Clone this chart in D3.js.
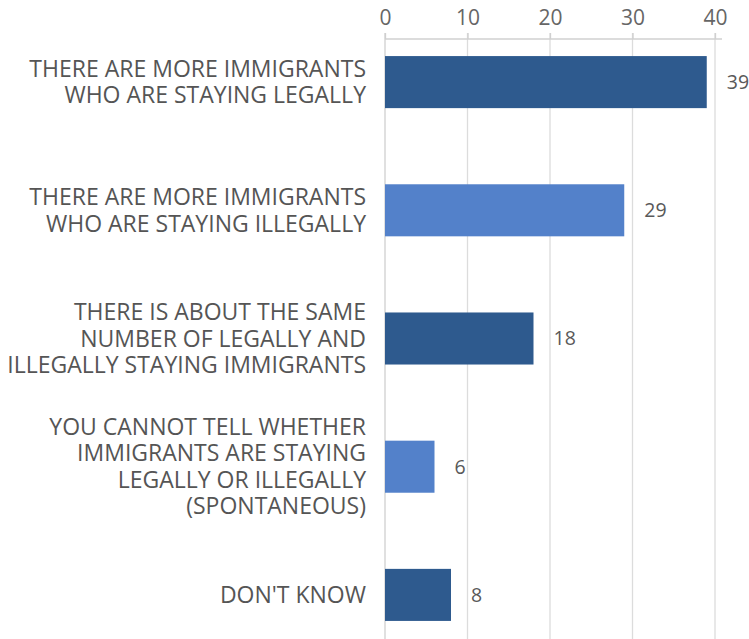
<!DOCTYPE html>
<html>
<head>
<meta charset="utf-8">
<script src="https://cdn.jsdelivr.net/npm/d3@7"></script>
<style>
  body { margin: 0; background: #fff; }
  text { font-family: "Open Sans", "Noto Sans", sans-serif; }
</style>
</head>
<body>
<div id="chart-container"></div>
<script>
// Data
var categories = [
    ["THERE ARE MORE IMMIGRANTS", "WHO ARE STAYING LEGALLY"],
    ["THERE ARE MORE IMMIGRANTS", "WHO ARE STAYING ILLEGALLY"],
    ["THERE IS ABOUT THE SAME", "NUMBER OF LEGALLY AND", "ILLEGALLY STAYING IMMIGRANTS"],
    ["YOU CANNOT TELL WHETHER", "IMMIGRANTS ARE STAYING", "LEGALLY OR ILLEGALLY", "(SPONTANEOUS)"],
    ["DON'T KNOW"]
];
var values = [39, 29, 18, 6, 8];
var barColors = ["#2e5a8e", "#5381ca", "#2e5a8e", "#5381ca", "#2e5a8e"];
var tickValues = [0, 10, 20, 30, 40];

var width = 749, height = 639;

var svg = d3.select("#chart-container")
            .append("svg")
            .attr("width", width)
            .attr("height", height);

// Scales
var x = d3.scaleLinear()
          .domain([0, 40])
          .range([385, 715]);

var y = d3.scaleBand()
          .domain(d3.range(values.length))
          .range([18, 659])
          .paddingInner(0.594)
          .paddingOuter(0.297);

// Gridlines
svg.append("g")
   .selectAll("line")
   .data(tickValues.slice(1))
   .enter().append("line")
   .attr("x1", function(d) { return x(d); })
   .attr("x2", function(d) { return x(d); })
   .attr("y1", 33)
   .attr("y2", height)
   .attr("stroke", "#dcdcdc")
   .attr("stroke-width", 1.3);

// Top axis
var xAxis = d3.axisTop(x)
              .tickValues(tickValues)
              .tickSize(6)
              .tickPadding(8);

var axisG = svg.append("g")
   .attr("transform", "translate(0,39)")
   .call(xAxis);

axisG.select(".domain")
     .attr("d", "M" + x(0) + ",0H" + (x(40) + 7))
     .attr("stroke", "#d0d0d0")
     .attr("stroke-width", 1.3);
axisG.selectAll(".tick line").attr("stroke", "#d0d0d0").attr("stroke-width", 1.3);
axisG.selectAll(".tick text")
     .attr("fill", "#666")
     .style("font-size", "21px");

// Vertical zero line
svg.append("line")
   .attr("x1", x(0)).attr("x2", x(0))
   .attr("y1", 33).attr("y2", height)
   .attr("stroke", "#d0d0d0")
   .attr("stroke-width", 1.3);

// Bars
svg.append("g")
   .selectAll("rect")
   .data(values)
   .enter().append("rect")
   .attr("x", x(0))
   .attr("y", function(d, i) { return y(i); })
   .attr("width", function(d) { return x(d) - x(0); })
   .attr("height", y.bandwidth())
   .attr("fill", function(d, i) { return barColors[i]; });

// Value labels
svg.append("g")
   .selectAll("text")
   .data(values)
   .enter().append("text")
   .attr("x", function(d) { return x(d) + 20; })
   .attr("y", function(d, i) { return y(i) + y.bandwidth() / 2; })
   .attr("dy", "0.35em")
   .attr("fill", "#595959")
   .style("font-size", "19.5px")
   .text(function(d) { return d; });

// Category labels
var lineH = 26.5;
var catG = svg.append("g")
   .selectAll("text")
   .data(categories)
   .enter().append("text")
   .attr("text-anchor", "end")
   .attr("fill", "#555")
   .style("font-size", "23px")
   .attr("transform", function(d, i) {
       var cy = y(i) + y.bandwidth() / 2;
       return "translate(366," + (cy - (d.length - 1) * lineH / 2) + ")";
   });

catG.selectAll("tspan")
    .data(function(d) { return d; })
    .enter().append("tspan")
    .attr("x", 0)
    .attr("y", function(d, j) { return j * lineH; })
    .attr("dy", "0.35em")
    .text(function(d) { return d; });
</script>
</body>
</html>
